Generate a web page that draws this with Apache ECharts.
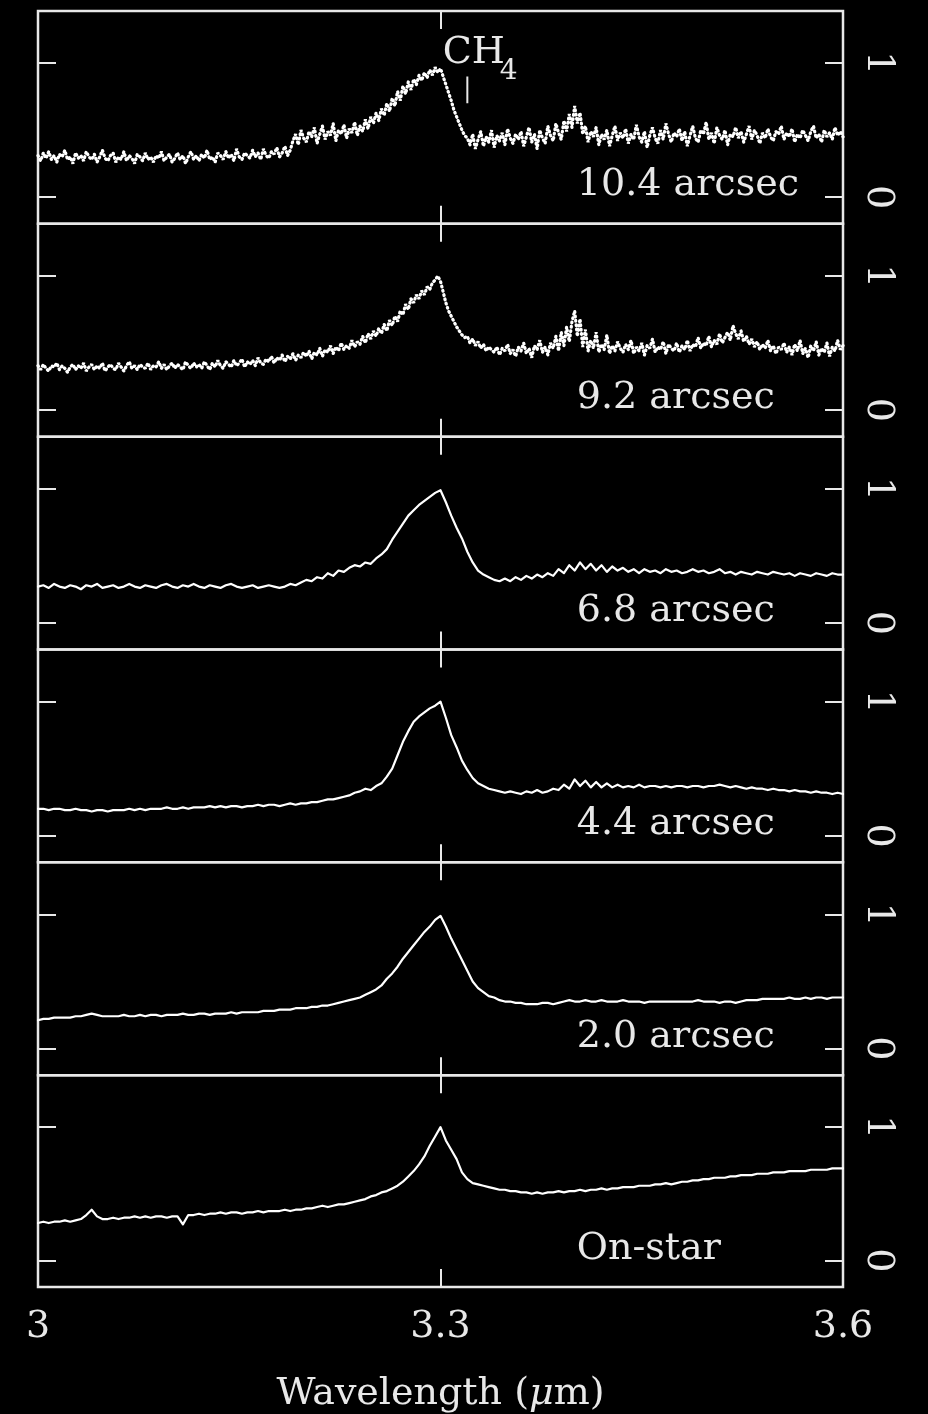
<!DOCTYPE html>
<html>
<head>
<meta charset="utf-8">
<script src="https://cdn.jsdelivr.net/npm/echarts@6/dist/echarts.min.js"></script>
<style>
  html, body { margin: 0; padding: 0; background: #000; }
  #chart { width: 928px; height: 1414px; }
</style>
</head>
<body>
<div id="chart"></div>
<script>
// Wavelength sampling of the spectra (micron)
const FINE_STEP = 0.002;   // noisy outer apertures
const COARSE_STEP = 0.004; // inner apertures
const waveFine = Array.from({ length: 301 }, (_, i) => +(3 + i * FINE_STEP).toFixed(3));
const waveCoarse = Array.from({ length: 151 }, (_, i) => +(3 + i * COARSE_STEP).toFixed(3));

const panelLabels = ['10.4 arcsec', '9.2 arcsec', '6.8 arcsec', '4.4 arcsec', '2.0 arcsec', 'On-star'];
const xTickValues = [3, 3.3, 3.6];
const xTickLabels = ['3', '3.3', '3.6'];
const yTickValues = [0, 1];
const yTickLabels = ['0', '1'];

// CH4 marker (wavelength, flux range) and its label
const ch4Wave = 3.32;
const ch4Span = [0.70, 0.90];

// Normalised flux, 10.4 arcsec offset (fine sampling)
const flux104 = [
  0.31,0.27,0.33,0.29,0.34,0.28,0.31,0.26,0.32,0.30,0.35,0.28,0.30,0.25,0.33,0.29,0.31,0.27,0.34,0.30,
  0.28,0.32,0.26,0.30,0.35,0.29,0.27,0.31,0.33,0.26,0.30,0.28,0.34,0.27,0.31,0.29,0.25,0.32,0.30,0.27,
  0.33,0.28,0.30,0.26,0.31,0.29,0.34,0.27,0.30,0.32,0.26,0.29,0.33,0.28,0.31,0.25,0.30,0.34,0.28,0.31,
  0.27,0.32,0.29,0.35,0.28,0.30,0.26,0.33,0.31,0.28,0.34,0.29,0.32,0.27,0.36,0.30,0.28,0.33,0.31,0.29,
  0.35,0.30,0.33,0.28,0.36,0.31,0.29,0.34,0.32,0.37,0.30,0.33,0.38,0.31,0.35,0.42,0.47,0.39,0.50,0.44,
  0.41,0.49,0.45,0.52,0.40,0.47,0.53,0.43,0.49,0.46,0.55,0.42,0.50,0.47,0.54,0.44,0.51,0.48,0.56,0.46,
  0.53,0.49,0.58,0.51,0.60,0.55,0.63,0.57,0.66,0.61,0.70,0.64,0.74,0.68,0.79,0.72,0.83,0.77,0.86,0.80,
  0.88,0.84,0.91,0.87,0.93,0.89,0.95,0.91,0.97,0.93,0.96,0.90,0.84,0.78,0.72,0.65,0.60,0.55,0.50,0.46,
  0.44,0.39,0.47,0.36,0.43,0.49,0.38,0.45,0.41,0.50,0.37,0.46,0.42,0.48,0.39,0.51,0.44,0.40,0.47,0.43,
  0.49,0.38,0.45,0.52,0.41,0.47,0.36,0.50,0.44,0.40,0.53,0.46,0.42,0.55,0.48,0.43,0.57,0.49,0.62,0.52,
  0.68,0.55,0.63,0.47,0.53,0.41,0.49,0.45,0.52,0.39,0.47,0.43,0.50,0.38,0.46,0.53,0.42,0.48,0.44,0.51,
  0.40,0.47,0.43,0.54,0.45,0.41,0.49,0.37,0.46,0.52,0.44,0.40,0.50,0.43,0.55,0.47,0.41,0.48,0.45,0.51,
  0.42,0.49,0.38,0.46,0.53,0.44,0.41,0.50,0.47,0.56,0.43,0.48,0.40,0.52,0.46,0.43,0.50,0.39,0.47,0.45,
  0.52,0.44,0.49,0.41,0.47,0.53,0.43,0.50,0.46,0.40,0.48,0.44,0.51,0.45,0.42,0.49,0.47,0.53,0.43,0.48,
  0.45,0.51,0.41,0.47,0.44,0.50,0.46,0.42,0.49,0.53,0.44,0.47,0.41,0.50,0.45,0.48,0.43,0.52,0.46,0.49,
  0.45
];

// Normalised flux, 9.2 arcsec offset (fine sampling)
const flux92 = [
  0.33,0.30,0.34,0.31,0.29,0.33,0.32,0.35,0.30,0.33,0.31,0.28,0.32,0.34,0.30,0.33,0.31,0.35,0.29,0.32,
  0.34,0.30,0.33,0.31,0.35,0.29,0.32,0.34,0.31,0.30,0.35,0.32,0.29,0.33,0.36,0.31,0.33,0.30,0.34,0.32,
  0.31,0.35,0.30,0.33,0.32,0.36,0.31,0.34,0.30,0.33,0.35,0.31,0.34,0.32,0.30,0.36,0.33,0.31,0.35,0.32,
  0.34,0.31,0.36,0.33,0.30,0.35,0.32,0.37,0.33,0.31,0.36,0.34,0.32,0.37,0.33,0.35,0.38,0.32,0.36,0.34,
  0.37,0.33,0.39,0.35,0.34,0.38,0.36,0.40,0.35,0.39,0.37,0.41,0.36,0.40,0.38,0.42,0.37,0.41,0.39,0.43,
  0.40,0.44,0.38,0.43,0.41,0.46,0.40,0.45,0.43,0.48,0.42,0.47,0.44,0.50,0.45,0.48,0.46,0.52,0.47,0.51,
  0.49,0.55,0.50,0.57,0.53,0.59,0.55,0.61,0.57,0.64,0.59,0.67,0.63,0.70,0.66,0.74,0.71,0.79,0.75,0.83,
  0.80,0.86,0.83,0.89,0.86,0.92,0.90,0.95,0.97,1.00,0.96,0.88,0.80,0.74,0.70,0.66,0.62,0.59,0.56,0.54,
  0.55,0.50,0.53,0.48,0.51,0.46,0.49,0.44,0.47,0.45,0.43,0.47,0.41,0.46,0.44,0.49,0.42,0.45,0.40,0.47,
  0.44,0.50,0.42,0.46,0.39,0.48,0.45,0.52,0.43,0.47,0.41,0.50,0.46,0.55,0.44,0.58,0.48,0.62,0.51,0.66,
  0.74,0.55,0.68,0.47,0.60,0.44,0.52,0.46,0.58,0.43,0.49,0.45,0.56,0.42,0.48,0.44,0.51,0.46,0.43,0.49,
  0.45,0.52,0.42,0.47,0.44,0.50,0.41,0.48,0.46,0.53,0.43,0.47,0.45,0.51,0.42,0.49,0.46,0.44,0.50,0.43,
  0.48,0.45,0.52,0.44,0.49,0.47,0.54,0.46,0.50,0.48,0.55,0.47,0.52,0.49,0.57,0.50,0.54,0.58,0.52,0.63,
  0.57,0.53,0.59,0.51,0.55,0.49,0.53,0.47,0.51,0.45,0.49,0.46,0.52,0.44,0.48,0.42,0.47,0.45,0.50,0.43,
  0.47,0.41,0.49,0.44,0.52,0.42,0.46,0.39,0.48,0.44,0.51,0.41,0.46,0.43,0.50,0.40,0.47,0.44,0.52,0.45,
  0.48
];

// Normalised flux, 6.8 arcsec offset (coarse sampling)
const flux68 = [
  0.27,0.28,0.26,0.29,0.27,0.26,0.28,0.27,0.25,0.28,0.27,0.29,0.26,0.27,0.28,0.26,0.27,0.29,0.27,0.26,
  0.28,0.27,0.26,0.28,0.29,0.27,0.26,0.28,0.27,0.29,0.27,0.26,0.28,0.27,0.26,0.28,0.29,0.27,0.26,0.27,
  0.28,0.26,0.27,0.28,0.27,0.26,0.27,0.29,0.28,0.30,0.32,0.31,0.34,0.33,0.37,0.35,0.39,0.38,0.41,0.43,
  0.42,0.45,0.44,0.48,0.51,0.55,0.62,0.68,0.74,0.80,0.84,0.88,0.91,0.94,0.97,0.99,0.90,0.80,0.71,0.63,
  0.53,0.45,0.39,0.36,0.34,0.32,0.31,0.33,0.31,0.34,0.32,0.35,0.33,0.36,0.34,0.37,0.35,0.40,0.37,0.43,
  0.39,0.45,0.40,0.44,0.39,0.43,0.38,0.42,0.39,0.41,0.38,0.40,0.37,0.40,0.38,0.39,0.37,0.40,0.38,0.39,
  0.37,0.38,0.40,0.38,0.39,0.37,0.38,0.40,0.37,0.38,0.36,0.38,0.37,0.36,0.38,0.37,0.36,0.38,0.37,0.36,
  0.37,0.35,0.37,0.36,0.35,0.37,0.36,0.35,0.37,0.36,0.36
];

// Normalised flux, 4.4 arcsec offset (coarse sampling)
const flux44 = [
  0.20,0.20,0.19,0.20,0.20,0.19,0.19,0.20,0.19,0.19,0.18,0.19,0.19,0.18,0.19,0.19,0.19,0.20,0.19,0.20,
  0.19,0.20,0.20,0.20,0.21,0.20,0.20,0.21,0.20,0.21,0.21,0.21,0.22,0.21,0.22,0.21,0.22,0.22,0.21,0.22,
  0.22,0.23,0.22,0.23,0.23,0.22,0.23,0.24,0.23,0.24,0.24,0.25,0.25,0.26,0.27,0.27,0.28,0.29,0.30,0.32,
  0.33,0.35,0.34,0.37,0.39,0.44,0.50,0.60,0.70,0.78,0.85,0.89,0.92,0.95,0.97,1.00,0.88,0.75,0.66,0.56,
  0.49,0.43,0.39,0.37,0.35,0.34,0.33,0.32,0.33,0.32,0.31,0.33,0.32,0.34,0.32,0.33,0.35,0.34,0.38,0.35,
  0.42,0.37,0.41,0.36,0.40,0.36,0.39,0.36,0.38,0.36,0.37,0.36,0.38,0.36,0.37,0.37,0.36,0.37,0.36,0.37,
  0.37,0.36,0.37,0.37,0.36,0.37,0.37,0.38,0.37,0.36,0.37,0.36,0.35,0.36,0.35,0.35,0.34,0.35,0.34,0.34,
  0.33,0.34,0.33,0.33,0.32,0.33,0.32,0.32,0.31,0.32,0.31
];

// Normalised flux, 2.0 arcsec offset (coarse sampling)
const flux20 = [
  0.21,0.22,0.22,0.23,0.23,0.23,0.23,0.24,0.24,0.25,0.26,0.25,0.24,0.24,0.24,0.24,0.25,0.24,0.24,0.25,
  0.24,0.25,0.25,0.24,0.25,0.25,0.25,0.26,0.25,0.25,0.26,0.26,0.25,0.26,0.26,0.26,0.27,0.26,0.27,0.27,
  0.27,0.27,0.28,0.28,0.28,0.29,0.29,0.29,0.30,0.30,0.30,0.31,0.31,0.32,0.32,0.33,0.34,0.35,0.36,0.37,
  0.38,0.40,0.42,0.44,0.47,0.52,0.56,0.61,0.67,0.72,0.77,0.82,0.87,0.91,0.96,0.99,0.91,0.82,0.74,0.66,
  0.58,0.50,0.45,0.42,0.39,0.38,0.36,0.35,0.35,0.34,0.34,0.33,0.33,0.33,0.34,0.34,0.33,0.34,0.35,0.36,
  0.35,0.35,0.36,0.35,0.35,0.36,0.35,0.35,0.35,0.36,0.35,0.35,0.35,0.34,0.35,0.35,0.35,0.35,0.35,0.35,
  0.35,0.35,0.35,0.36,0.35,0.35,0.35,0.34,0.35,0.35,0.34,0.35,0.36,0.36,0.36,0.37,0.37,0.37,0.37,0.37,
  0.38,0.37,0.37,0.38,0.37,0.38,0.38,0.37,0.38,0.38,0.38
];

// Normalised flux, on-star (coarse sampling)
const fluxStar = [
  0.28,0.29,0.28,0.29,0.29,0.30,0.29,0.30,0.31,0.34,0.38,0.33,0.31,0.31,0.32,0.31,0.32,0.32,0.33,0.32,
  0.33,0.32,0.33,0.33,0.32,0.33,0.33,0.27,0.34,0.34,0.35,0.34,0.35,0.35,0.36,0.35,0.36,0.36,0.35,0.36,
  0.36,0.37,0.36,0.37,0.37,0.37,0.38,0.37,0.38,0.38,0.39,0.39,0.40,0.41,0.40,0.41,0.42,0.42,0.43,0.44,
  0.45,0.46,0.48,0.49,0.51,0.52,0.54,0.56,0.59,0.63,0.67,0.72,0.78,0.86,0.93,1.00,0.90,0.83,0.76,0.66,
  0.61,0.58,0.57,0.56,0.55,0.54,0.53,0.53,0.52,0.52,0.51,0.51,0.50,0.51,0.50,0.51,0.51,0.52,0.51,0.52,
  0.52,0.53,0.52,0.53,0.53,0.54,0.53,0.54,0.54,0.55,0.55,0.55,0.56,0.56,0.56,0.57,0.57,0.58,0.57,0.58,
  0.59,0.59,0.60,0.60,0.61,0.61,0.62,0.62,0.62,0.63,0.63,0.64,0.64,0.64,0.65,0.65,0.65,0.66,0.66,0.66,
  0.67,0.67,0.67,0.67,0.68,0.68,0.68,0.68,0.69,0.69,0.69
];

const spectra = [
  { wave: waveFine,   flux: flux104,  dotted: true },
  { wave: waveFine,   flux: flux92,   dotted: true },
  { wave: waveCoarse, flux: flux68,   dotted: false },
  { wave: waveCoarse, flux: flux44,   dotted: false },
  { wave: waveCoarse, flux: flux20,   dotted: false },
  { wave: waveCoarse, flux: fluxStar, dotted: false }
];

// ---- layout & style ----
const FG = '#e8e8e8';
const FONT = 'DejaVu Serif';
const FONT_SIZE = 38;
const GRID_LEFT = 38, GRID_WIDTH = 805, GRID_TOP = 11, PANEL_H = 212.83;
const Y_MIN = -0.2, Y_MAX = 1.39;
const X_MIN = 3, X_MAX = 3.6;
const LABEL_WAVE = 3.402, LABEL_LEVEL = -0.06;
// invisible anchor symbol for text labels (full opacity so the text keeps its colour)
const ANCHOR_STYLE = { color: '#000', opacity: 1 };

const grid = [], xAxis = [], yAxis = [], series = [];
const tickStyle = { color: FG, width: 2 };

spectra.forEach((s, k) => {
  const last = k === spectra.length - 1;
  grid.push({
    left: GRID_LEFT, width: GRID_WIDTH, top: GRID_TOP + k * PANEL_H, height: PANEL_H,
    show: true, borderColor: FG, borderWidth: 2.5, backgroundColor: 'transparent'
  });
  // bottom wavelength axis
  xAxis.push({
    gridIndex: k, type: 'value', position: 'bottom', min: X_MIN, max: X_MAX, interval: 0.3,
    axisLine: { show: false, onZero: false }, splitLine: { show: false },
    axisTick: { show: true, inside: true, length: 18, lineStyle: tickStyle },
    axisLabel: {
      show: last, margin: 21, color: FG, fontFamily: FONT, fontSize: FONT_SIZE,
      showMinLabel: true, showMaxLabel: true,
      formatter: v => {
        const idx = xTickValues.findIndex(t => Math.abs(t - v) < 1e-6);
        return idx >= 0 ? xTickLabels[idx] : '';
      }
    },
    name: last ? '{n|Wavelength (}{i|μ}{n|m)}' : '',
    nameLocation: 'middle', nameGap: 88,
    nameTextStyle: {
      rich: {
        n: { color: FG, fontFamily: FONT, fontSize: FONT_SIZE },
        i: { color: FG, fontFamily: FONT, fontSize: FONT_SIZE, fontStyle: 'italic' }
      }
    }
  });
  // top wavelength axis (ticks only)
  xAxis.push({
    gridIndex: k, type: 'value', position: 'top', min: X_MIN, max: X_MAX, interval: 0.3,
    axisLine: { show: false, onZero: false }, splitLine: { show: false },
    axisTick: { show: true, inside: true, length: 18, lineStyle: tickStyle },
    axisLabel: { show: false }
  });
  // left flux axis (ticks only)
  yAxis.push({
    gridIndex: k, type: 'value', position: 'left', min: Y_MIN, max: Y_MAX,
    axisLine: { show: false, onZero: false }, splitLine: { show: false },
    axisTick: { show: true, inside: true, length: 18, customValues: yTickValues, lineStyle: tickStyle },
    axisLabel: { show: false, customValues: yTickValues }
  });
  // right flux axis with labels
  yAxis.push({
    gridIndex: k, type: 'value', position: 'right', min: Y_MIN, max: Y_MAX,
    axisLine: { show: false, onZero: false }, splitLine: { show: false },
    axisTick: { show: true, inside: true, length: 18, customValues: yTickValues, lineStyle: tickStyle },
    axisLabel: {
      show: true, customValues: yTickValues, rotate: -90, margin: 16,
      color: FG, fontFamily: FONT, fontSize: FONT_SIZE,
      formatter: v => {
        const idx = yTickValues.findIndex(t => Math.abs(t - v) < 1e-6);
        return idx >= 0 ? yTickLabels[idx] : '';
      }
    }
  });

  // spectrum
  series.push({
    type: 'line', xAxisIndex: 2 * k, yAxisIndex: 2 * k,
    data: s.wave.map((w, i) => [w, s.flux[i]]),
    showSymbol: false, symbol: 'none', silent: true,
    lineStyle: s.dotted
      ? { color: '#ffffff', width: 3.2, type: [0.8, 3.6], cap: 'round' }
      : { color: '#ffffff', width: 2.2, cap: 'round', join: 'round' }
  });

  // aperture label
  series.push({
    type: 'scatter', xAxisIndex: 2 * k, yAxisIndex: 2 * k,
    symbolSize: 1, itemStyle: ANCHOR_STYLE, silent: true, z: 5,
    data: [[LABEL_WAVE, LABEL_LEVEL]],
    label: {
      show: true, position: [0, 0], align: 'left', verticalAlign: 'bottom',
      formatter: panelLabels[k], color: FG, opacity: 1, fontFamily: FONT, fontSize: FONT_SIZE
    }
  });
});

// CH4 marker and label in the top panel
series.push({
  type: 'line', xAxisIndex: 0, yAxisIndex: 0, silent: true,
  data: [[ch4Wave, ch4Span[0]], [ch4Wave, ch4Span[1]]],
  showSymbol: false, symbol: 'none',
  lineStyle: { color: FG, width: 2 }
});
series.push({
  type: 'scatter', xAxisIndex: 0, yAxisIndex: 0, silent: true, z: 5,
  symbolSize: 1, itemStyle: ANCHOR_STYLE,
  data: [
    { value: [3.302, 0.93], label: { formatter: 'CH', fontSize: FONT_SIZE } },
    { value: [3.3445, 0.83], label: { formatter: '4', fontSize: 28 } }
  ],
  label: {
    show: true, position: [0, 0], align: 'left', verticalAlign: 'bottom',
    color: FG, opacity: 1, fontFamily: FONT
  }
});

const chart = echarts.init(document.getElementById('chart'), null, { renderer: 'canvas' });
chart.setOption({
  backgroundColor: '#000',
  animation: false,
  grid, xAxis, yAxis, series
});
</script>
</body>
</html>
